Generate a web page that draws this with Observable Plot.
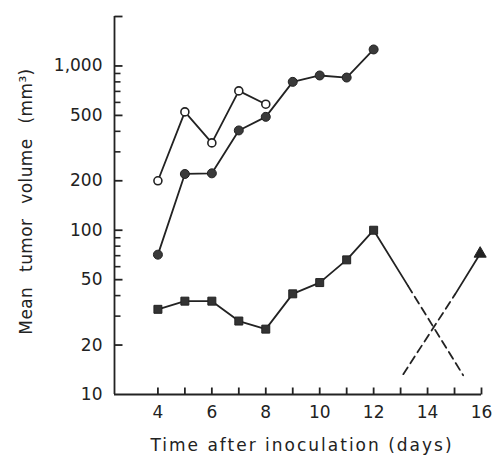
<!DOCTYPE html>
<html>
<head>
<meta charset="utf-8">
<script src="https://cdn.jsdelivr.net/npm/d3@7"></script>
<script src="https://cdn.jsdelivr.net/npm/@observablehq/plot@0.6"></script>
<style>
  html, body { margin: 0; padding: 0; background: #fff; }
</style>
</head>
<body>
<div id="chart"></div>
<script>
// Data
const days = [4, 5, 6, 7, 8, 9, 10, 11, 12];
const openDays = [4, 5, 6, 7, 8];
const openVolume = [200, 525, 340, 705, 585];
const filledVolume = [71, 220, 222, 405, 490, 800, 875, 850, 1260];
const squareVolume = [33, 37, 37, 28, 25, 41, 48, 66, 100];

// Extrapolated trend lines (solid part, then dashed part)
const fallSolidDays = [12, 13.27];
const fallSolidVolume = [100, 46];
const fallDashDays = [13.27, 15.32];
const fallDashVolume = [46, 13.1];
const riseDashDays = [13.1, 15.02];
const riseDashVolume = [13.3, 40.7];
const riseSolidDays = [15.02, 15.95];
const riseSolidVolume = [40.7, 72];
const triangleDays = [15.95];
const triangleVolume = [72];

// Axis ticks
const xTicks = [4, 5, 6, 7, 8, 9, 10, 11, 12, 13, 14, 15, 16];
const xTickLabels = [4, 6, 8, 10, 12, 14, 16];
const yMajorTicks = [20, 50, 100, 200, 500, 1000, 2000];
const yMinorTicks = [30, 40, 60, 70, 80, 90, 300, 400, 600, 700, 800, 900];
const yTickLabels = [10, 20, 50, 100, 200, 500, 1000];

const xTitle = "Time after inoculation (days)";
const yTitle = "Mean tumor volume (mm³)";

const W = 494, H = 455;
const xMin = 2.39, xMax = 16;
const ink = "#222";

// inward tick glyphs drawn as custom dot symbols
const tickRight = len => ({draw(c) { c.moveTo(0, 0); c.lineTo(len, 0); }});
const tickUp = len => ({draw(c) { c.moveTo(0, 0); c.lineTo(0, -len); }});

const pts = (xs, ys) => xs.map((x, i) => ({x, y: ys[i]}));
const openData = pts(openDays, openVolume);
const filledData = pts(days, filledVolume);
const squareData = pts(days, squareVolume);

const lineW = 1.8;

const chart = Plot.plot({
  width: W,
  height: H,
  marginLeft: 114,
  marginRight: 13,
  marginTop: 16,
  marginBottom: 61,
  style: {fontFamily: "DejaVu Sans", fontSize: "17px", color: ink, background: "#fff"},
  x: {domain: [xMin, xMax]},
  y: {type: "log", domain: [10, 2000]},
  marks: [
    // axis lines
    Plot.ruleX([xMin], {stroke: ink, strokeWidth: 1.8}),
    Plot.ruleY([10], {x1: xMin, x2: xMax, stroke: ink, strokeWidth: 1.8}),
    // ticks
    Plot.dot(yMajorTicks, {x: () => xMin, y: d => d, r: 1, symbol: tickRight(8), fill: "none", stroke: ink, strokeWidth: 1.8}),
    Plot.dot(yMinorTicks, {x: () => xMin, y: d => d, r: 1, symbol: tickRight(6), fill: "none", stroke: ink, strokeWidth: 1.6}),
    Plot.dot(xTicks, {x: d => d, y: () => 10, r: 1, symbol: tickUp(7), fill: "none", stroke: ink, strokeWidth: 1.8}),
    // tick labels
    Plot.axisY({ticks: yTickLabels, tickFormat: d3.format(","), tickSize: 0, tickPadding: 12, label: null, fill: ink}),
    Plot.axisX({ticks: xTickLabels, tickFormat: d => d, tickSize: 0, tickPadding: 11, label: null, fill: ink}),
    // axis titles
    Plot.text([xTitle], {frameAnchor: "bottom", textAnchor: "middle", lineAnchor: "bottom", dy: 56, dx: 4, fill: ink, fontSize: 17}),
    Plot.text([yTitle], {frameAnchor: "left", textAnchor: "middle", lineAnchor: "middle", rotate: -90, dx: -88, dy: -4, fill: ink, fontSize: 17}),
    // series lines
    Plot.line(openData, {x: "x", y: "y", stroke: ink, strokeWidth: lineW}),
    Plot.line(filledData, {x: "x", y: "y", stroke: ink, strokeWidth: lineW}),
    Plot.line(squareData, {x: "x", y: "y", stroke: ink, strokeWidth: lineW}),
    Plot.line(pts(fallSolidDays, fallSolidVolume), {x: "x", y: "y", stroke: ink, strokeWidth: lineW}),
    Plot.line(pts(fallDashDays, fallDashVolume), {x: "x", y: "y", stroke: ink, strokeWidth: lineW, strokeDasharray: "8,5"}),
    Plot.line(pts(riseDashDays, riseDashVolume), {x: "x", y: "y", stroke: ink, strokeWidth: lineW, strokeDasharray: "8,5"}),
    Plot.line(pts(riseSolidDays, riseSolidVolume), {x: "x", y: "y", stroke: ink, strokeWidth: lineW}),
    // markers
    Plot.dot(openData, {x: "x", y: "y", r: 4, fill: "#fff", stroke: ink, strokeWidth: 1.6}),
    Plot.dot(filledData, {x: "x", y: "y", r: 4.5, fill: "#3a3a3a", stroke: ink, strokeWidth: 1}),
    Plot.dot(squareData, {x: "x", y: "y", symbol: "square", r: 4.5, fill: "#333", stroke: ink, strokeWidth: 1}),
    Plot.dot(pts(triangleDays, triangleVolume), {x: "x", y: "y", symbol: "triangle", r: 4.5, fill: ink, stroke: ink, strokeWidth: 1})
  ]
});
document.getElementById("chart").appendChild(chart);

// spacing of the axis titles, as in the typeset original
d3.select(chart).selectAll("text")
  .filter(function() { return this.textContent === xTitle; })
  .style("letter-spacing", "2px");
d3.select(chart).selectAll("text")
  .filter(function() { return this.textContent === yTitle; })
  .style("letter-spacing", "0.4px").style("word-spacing", "9px");
</script>
</body>
</html>
